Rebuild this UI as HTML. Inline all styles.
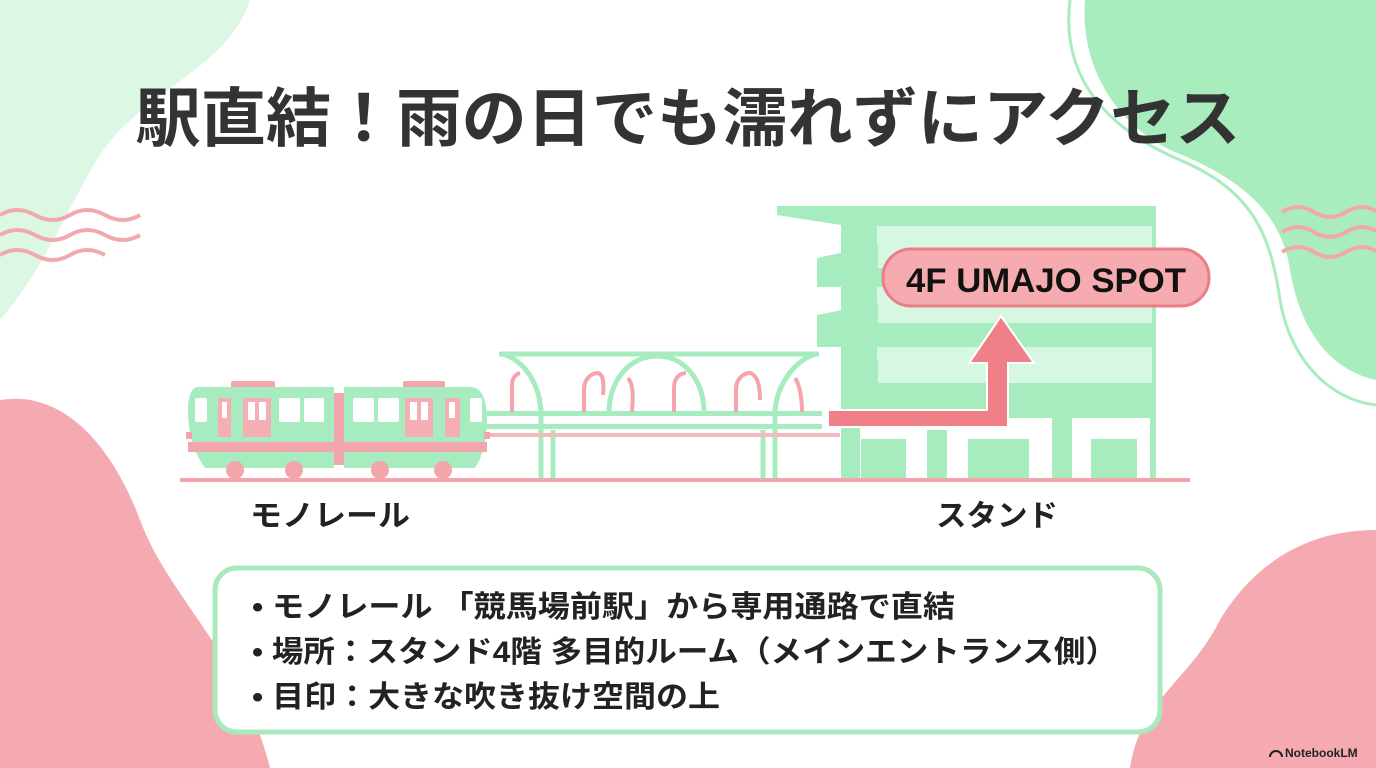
<!DOCTYPE html>
<html><head><meta charset="utf-8"><style>
html,body{margin:0;padding:0;width:1376px;height:768px;overflow:hidden;background:#fff}
svg{position:absolute;left:0;top:0}
text{font-family:"Liberation Sans","Noto Sans CJK JP",sans-serif;font-weight:bold}
</style></head><body>
<svg width="1376" height="768" viewBox="0 0 1376 768">
<path d="M0,0 L250,0 C230,60 170,80 120,130 C80,170 60,250 0,320 Z" fill="#ddf7e5"/>
<path d="M1085,0 L1376,0 L1376,380 C1330,370 1300,330 1290,270 C1280,200 1220,170 1170,150 C1110,120 1080,60 1085,0 Z" fill="#a9ecbd"/>
<path d="M1070,0 C1060,80 1110,130 1180,160 C1250,190 1270,230 1280,300 C1290,360 1330,400 1376,405" fill="none" stroke="#a9ecbd" stroke-width="3"/>
<path d="M0,400 C60,390 110,440 140,520 C170,600 240,650 270,768 L0,768 Z" fill="#f5aab1"/>
<path d="M0,470 C40,470 60,520 75,580 C95,660 150,700 170,768" fill="none" stroke="#f5aab1" stroke-width="3"/>
<path d="M1376,530 C1300,530 1250,570 1220,620 C1190,680 1140,700 1130,768 L1376,768 Z" fill="#f5aab1"/>
<g fill="none" stroke="#f3a8ae" stroke-width="4">
<path d="M0,215 q17,-10 35,0 t35,0 t35,0 t35,0"/>
<path d="M0,235 q17,-10 35,0 t35,0 t35,0 t35,0"/>
<path d="M0,255 q17,-10 35,0 t35,0 t35,0"/>
<path d="M1282,212 q16,-10 32,0 t32,0 t32,0"/>
<path d="M1282,232 q16,-10 32,0 t32,0 t32,0"/>
<path d="M1282,252 q16,-10 32,0 t32,0 t32,0"/>
</g>
<text x="688" y="141" font-size="64" fill="#333" text-anchor="middle" textLength="1105" lengthAdjust="spacingAndGlyphs">駅直結！雨の日でも濡れずにアクセス</text>

<rect x="841" y="206" width="315" height="212" fill="#a6ecbe"/>
<path d="M777,206 L1156,206 L1156,225 L841,225 L777,215 Z" fill="#a6ecbe"/>
<g fill="#d6f8e2">
<rect x="877" y="226" width="275" height="42"/>
<rect x="877" y="287" width="275" height="36"/>
<rect x="877" y="347" width="275" height="36"/>
</g>
<path d="M817,258 L878,245 L878,287 L817,287 Z" fill="#a6ecbe"/>
<path d="M817,315 L878,303 L878,347 L817,347 Z" fill="#a6ecbe"/>
<path d="M841,370 L878,360 L878,383 L841,383 Z" fill="#a6ecbe"/>
<g fill="#a6ecbe">
<rect x="841" y="418" width="19" height="60"/>
<rect x="861" y="439" width="45" height="39"/>
<rect x="927" y="430" width="20" height="48"/>
<rect x="968" y="439" width="61" height="39"/>
<rect x="1052" y="418" width="20" height="60"/>
<rect x="1091" y="439" width="46" height="39"/>
<rect x="1150" y="418" width="6" height="60"/>
</g>
<path d="M828,410 L987,410 L987,363 L969,363 L1001,316 L1034,363 L1008,363 L1008,427 L828,427 Z" fill="#ef8087" stroke="#fff" stroke-width="2"/>
<rect x="883" y="249" width="326" height="57" rx="28" fill="#f6abb0" stroke="#e97f87" stroke-width="3"/>
<text x="1046" y="292" font-size="34" fill="#111" text-anchor="middle" textLength="280" lengthAdjust="spacingAndGlyphs">4F UMAJO SPOT</text>

<g fill="none" stroke="#a6ecbe" stroke-width="5">
<line x1="499" y1="354" x2="819" y2="354"/>
<path d="M502,354 C525,360 540,385 541,413"/>
<path d="M609,413 C609,380 630,356 657,356 C684,356 704,380 704,413"/>
<path d="M816,354 C795,360 776,385 775,413"/>
<line x1="541" y1="413" x2="541" y2="480"/>
<line x1="553" y1="430" x2="553" y2="480"/>
<line x1="763" y1="430" x2="763" y2="480"/>
<line x1="775" y1="413" x2="775" y2="480"/>
</g>
<g fill="#a6ecbe">
<rect x="487" y="411" width="335" height="5"/>
<rect x="487" y="424" width="335" height="5"/>
</g>
<rect x="487" y="433" width="353" height="4" fill="#f5b8bc"/>
<g fill="none" stroke="#f2a5ab" stroke-width="4">
<path d="M512,412 L512,385 C512,378 516,374 520,373"/>
<path d="M584,412 L584,390 C584,378 592,373 598,373 C604,375 604,385 603,395"/>
<path d="M628,378 C634,385 633,400 632,412"/>
<path d="M674,412 L674,388 C674,378 680,373 686,373"/>
<path d="M736,412 L736,390 C736,378 744,373 750,373 C757,375 760,385 760,400"/>
<path d="M795,378 C800,385 802,400 802,412"/>
</g>
<rect x="180" y="478" width="1010" height="4" fill="#f2a5ab"/>
<g>
<rect x="231" y="381" width="44" height="8" rx="2" fill="#f2a5ab"/>
<rect x="403" y="381" width="42" height="8" rx="2" fill="#f2a5ab"/>
<rect x="330" y="393" width="18" height="72" fill="#f2a5ab"/>
<path d="M198,387 L334,387 L334,468 L205,468 C192,450 188,430 188,410 C188,395 192,387 198,387 Z" fill="#a6ecbe"/>
<path d="M344,387 L470,387 C482,387 487,400 487,420 C487,440 483,455 475,468 L344,468 Z" fill="#a6ecbe"/>
<rect x="188" y="442" width="299" height="10" fill="#f2a5ab"/>
<rect x="186" y="432" width="6" height="7" fill="#f2a5ab"/>
<rect x="484" y="432" width="6" height="7" fill="#f2a5ab"/>
<g fill="#f4aeb4">
<rect x="218" y="398" width="13" height="39"/>
<rect x="243" y="398" width="28" height="39"/>
<rect x="405" y="398" width="28" height="39"/>
<rect x="445" y="398" width="15" height="39"/>
</g>
<g fill="#fff">
<rect x="195" y="398" width="12" height="24" rx="2"/>
<rect x="222" y="402" width="5" height="16"/>
<rect x="248" y="402" width="7" height="18"/>
<rect x="259" y="402" width="7" height="18"/>
<rect x="279" y="398" width="21" height="24" rx="2"/>
<rect x="304" y="398" width="20" height="24" rx="2"/>
<rect x="353" y="398" width="21" height="24" rx="2"/>
<rect x="378" y="398" width="21" height="24" rx="2"/>
<rect x="410" y="402" width="7" height="18"/>
<rect x="421" y="402" width="7" height="18"/>
<rect x="449" y="402" width="6" height="16"/>
<rect x="470" y="398" width="12" height="24" rx="2"/>
</g>
<g fill="#f2a5ab">
<circle cx="235" cy="470" r="9"/><circle cx="294" cy="470" r="9"/>
<circle cx="380" cy="470" r="9"/><circle cx="443" cy="470" r="9"/>
</g>
</g>
<text x="250" y="526" font-size="30" fill="#222" textLength="160" lengthAdjust="spacingAndGlyphs">モノレール</text>
<text x="936" y="526" font-size="30" fill="#222" textLength="122" lengthAdjust="spacingAndGlyphs">スタンド</text>
<rect x="215" y="568" width="945" height="164" rx="22" fill="#fff" stroke="#a8e9bd" stroke-width="5"/>
<g font-size="30" fill="#222">
<text x="252" y="617" textLength="703" lengthAdjust="spacingAndGlyphs">• モノレール 「競馬場前駅」から専用通路で直結</text>
<text x="252" y="662" textLength="865" lengthAdjust="spacingAndGlyphs">• 場所：スタンド4階 多目的ルーム（メインエントランス側）</text>
<text x="252" y="707" textLength="468" lengthAdjust="spacingAndGlyphs">• 目印：大きな吹き抜け空間の上</text>
</g>
<text x="1285" y="757" font-size="12" fill="#222" font-weight="bold">NotebookLM</text>
<path d="M1270,757 a6,6 0 0 1 12,0" fill="none" stroke="#222" stroke-width="2"/>
</svg>
</body></html>
